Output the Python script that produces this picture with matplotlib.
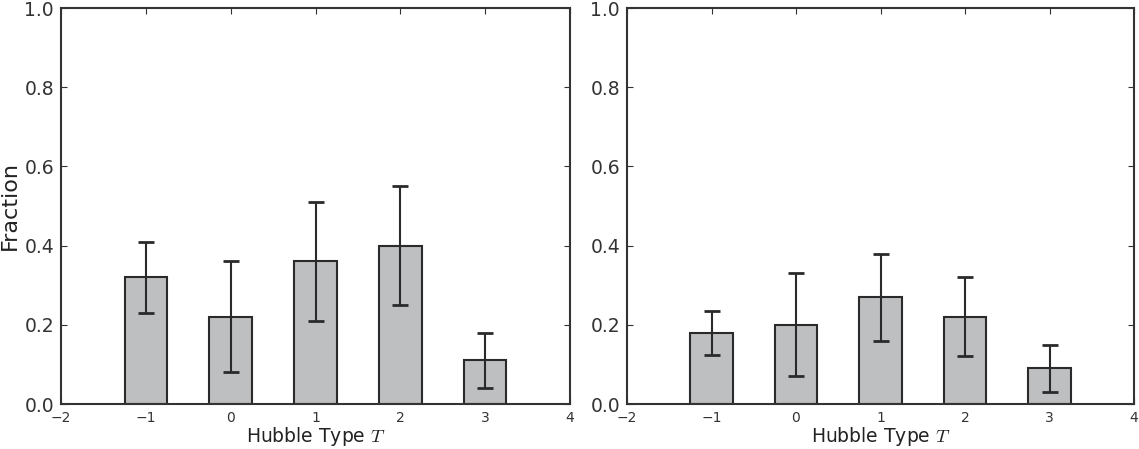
import matplotlib
matplotlib.use("Agg")
import matplotlib.pyplot as plt
import numpy as np

hubble_types = [-1, 0, 1, 2, 3]

left_values = [0.32, 0.22, 0.36, 0.40, 0.11]
left_lower = [0.23, 0.08, 0.21, 0.25, 0.04]
left_upper = [0.41, 0.36, 0.51, 0.55, 0.18]

right_values = [0.18, 0.20, 0.27, 0.22, 0.09]
right_lower = [0.125, 0.07, 0.16, 0.12, 0.03]
right_upper = [0.235, 0.33, 0.38, 0.32, 0.15]

xticks = [-2, -1, 0, 1, 2, 3, 4]
yticks = [0.0, 0.2, 0.4, 0.6, 0.8, 1.0]

plt.rcParams['font.family'] = ['DejaVu Sans']
plt.rcParams['mathtext.fontset'] = 'cm'

fig = plt.figure(figsize=(11.39, 4.49), dpi=100)
ax1 = fig.add_axes([61/1139, 45/449, 509/1139, 396/449])
ax2 = fig.add_axes([627/1139, 45/449, 507/1139, 396/449])

bar_color = '#bebfc1'
edge = '#2a2a2a'

for ax, vals, lo, hi in [(ax1, left_values, left_lower, left_upper),
                          (ax2, right_values, right_lower, right_upper)]:
    x = np.array(hubble_types, dtype=float)
    v = np.array(vals)
    yerr = np.vstack([v - np.array(lo), np.array(hi) - v])
    ax.bar(x, v, width=0.5, color=bar_color, edgecolor=edge, linewidth=1.5, zorder=2)
    ax.errorbar(x, v, yerr=yerr, fmt='none', ecolor=edge, elinewidth=1.5,
                capsize=6, capthick=2, zorder=3)
    ax.set_xlim(-2, 4)
    ax.set_ylim(0, 1.0)
    ax.set_xticks(xticks)
    ax.set_xticklabels(['\u2212' + str(-t) if t < 0 else str(t) for t in xticks], fontsize=10)
    ax.set_yticks(yticks)
    ax.set_yticklabels([f'{t:.1f}' for t in yticks], fontsize=13.5)
    ax.tick_params(direction='in', top=True, right=True, length=4, width=0.8, colors='#333333')
    ax.tick_params(axis='x', pad=5)
    ax.tick_params(axis='y', pad=5)
    for s in ax.spines.values():
        s.set_linewidth(1.5)
        s.set_color('#333333')
    ax.set_xlabel('Hubble Type $T$', fontsize=13.5, labelpad=0, color='#222222')

ax1.set_ylabel('Fraction', fontsize=16, labelpad=3, color='#222222')

fig.savefig('out.png', dpi=100)
